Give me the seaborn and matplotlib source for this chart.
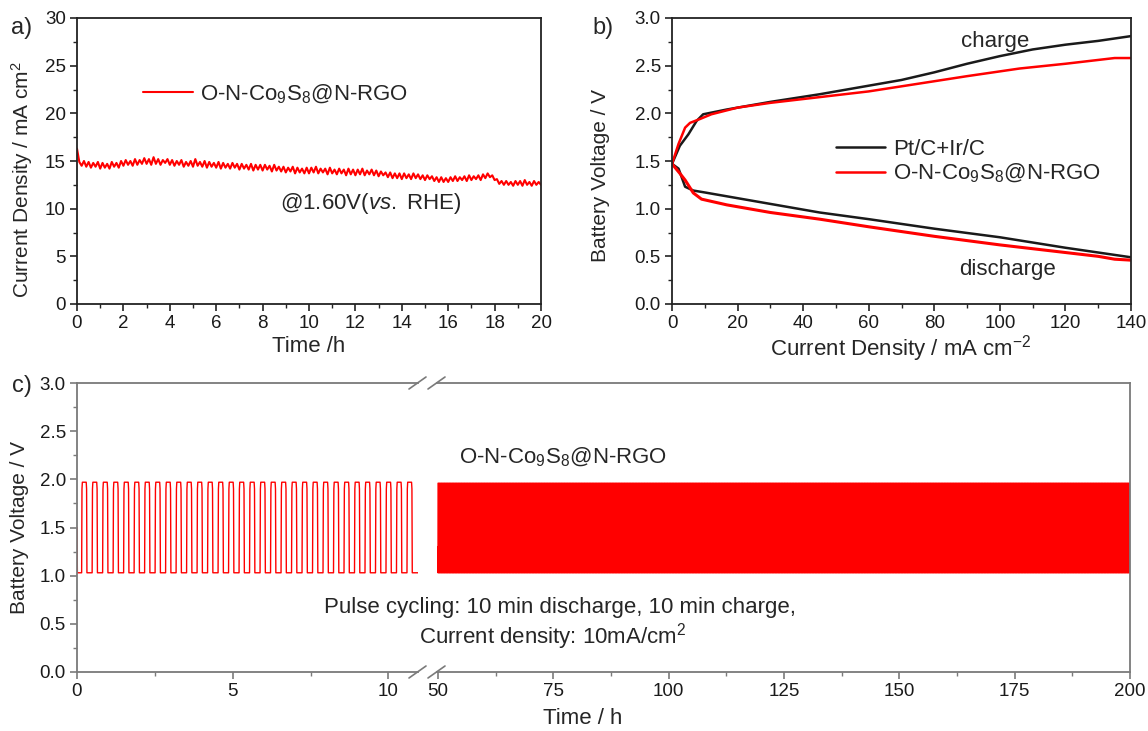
import numpy as np
import matplotlib
matplotlib.use("Agg")
import matplotlib.pyplot as plt
import seaborn as sns
from matplotlib.ticker import MultipleLocator, FixedLocator, FormatStrFormatter
from matplotlib.lines import Line2D

# ---------------- data ----------------
# (a) chronoamperometry at 1.60 V vs RHE, sampled every 0.1 h
time_a_h = np.linspace(0, 20, 201)
current_a = [
    16.3, 14.9, 14.5, 15.0, 14.4, 14.9, 14.3, 14.8, 14.4, 14.9,
    14.2, 14.8, 14.3, 14.7, 14.2, 14.9, 14.4, 14.8, 14.3, 15.0,
    14.5, 15.1, 14.6, 15.0, 14.5, 15.2, 14.6, 15.1, 14.7, 15.3,
    14.7, 15.2, 14.6, 15.4, 14.7, 15.2, 14.6, 15.1, 14.8, 15.2,
    14.6, 15.1, 14.5, 15.0, 14.6, 15.1, 14.4, 14.9, 14.5, 15.0,
    14.4, 15.2, 14.5, 14.9, 14.4, 15.0, 14.3, 14.9, 14.4, 14.8,
    14.3, 14.9, 14.2, 14.8, 14.3, 14.7, 14.2, 14.8, 14.3, 14.7,
    14.1, 14.7, 14.2, 14.6, 14.1, 14.7, 14.0, 14.6, 14.1, 14.6,
    14.0, 14.6, 14.1, 14.5, 13.9, 14.6, 14.0, 14.4, 13.9, 14.4,
    13.8, 14.3, 13.9, 14.4, 13.7, 14.3, 13.8, 14.2, 13.7, 14.3,
    13.7, 14.3, 13.8, 14.4, 13.7, 14.2, 13.8, 14.2, 13.6, 14.3,
    13.7, 14.1, 13.6, 14.2, 13.7, 14.1, 13.5, 14.2, 13.6, 14.1,
    13.5, 14.1, 13.6, 14.2, 13.5, 14.0, 13.6, 14.1, 13.5, 14.0,
    13.4, 13.9, 13.5, 13.8, 13.3, 13.8, 13.2, 13.7, 13.2, 13.7,
    13.1, 13.7, 13.2, 13.6, 13.1, 13.7, 13.2, 13.6, 13.1, 13.5,
    13.0, 13.5, 13.1, 13.4, 12.9, 13.3, 12.8, 13.3, 12.8, 13.2,
    12.8, 13.3, 12.9, 13.4, 12.9, 13.3, 13.0, 13.4, 12.9, 13.5,
    13.0, 13.4, 13.1, 13.5, 13.0, 13.6, 13.2, 13.7, 13.3, 13.5,
    13.0, 13.1, 12.6, 12.9, 12.5, 12.9, 12.5, 12.8, 12.4, 12.9,
    12.5, 12.9, 12.4, 13.0, 12.5, 12.8, 12.4, 12.9, 12.5, 12.8,
    12.5]
label_a = "O-N-Co$_9$S$_8$@N-RGO"

# (b) charge / discharge polarization curves
ref_charge_j = [0, 2.4, 5, 7.5, 9.5, 16.7, 30, 45, 60, 70, 80, 90, 100, 110, 120, 130, 140]
ref_charge_v = [1.47, 1.66, 1.78, 1.92, 1.99, 2.04, 2.12, 2.20, 2.29, 2.35, 2.43, 2.52, 2.60, 2.67, 2.72, 2.76, 2.81]
ref_dis_j = [0, 2, 4, 6.5, 10, 20, 30, 45, 60, 80, 100, 120, 140]
ref_dis_v = [1.47, 1.42, 1.23, 1.19, 1.17, 1.11, 1.05, 0.96, 0.89, 0.79, 0.70, 0.59, 0.49]
cat_charge_j = [0, 2, 4, 5.5, 8.5, 12, 20, 30, 45, 60, 75, 90, 106, 120, 135, 140]
cat_charge_v = [1.47, 1.68, 1.85, 1.90, 1.94, 1.99, 2.06, 2.11, 2.17, 2.23, 2.31, 2.39, 2.47, 2.52, 2.58, 2.58]
cat_dis_j = [0, 2.4, 4, 6.5, 9, 16.7, 30, 45, 60, 80, 100, 115, 130, 135, 140]
cat_dis_v = [1.47, 1.37, 1.30, 1.165, 1.10, 1.04, 0.96, 0.89, 0.81, 0.71, 0.62, 0.56, 0.50, 0.47, 0.46]
label_ref = "Pt/C+Ir/C"
label_cat = "O-N-Co$_9$S$_8$@N-RGO"

# (c) pulse cycling read-offs (10 min discharge / 10 min charge)
cycle_period_h = 0.337          # one charge+discharge cycle on the axis
first_peak_h = 0.234
left_range_h = [0.0, 10.97]
right_range_h = [50.0, 200.0]
left_levels_v = [1.03, 1.97]     # discharge, charge plateau
right_levels_v = [1.03, 1.96]
start_voltage_v = [1.50, 1.30]   # left segment, right segment


def pulse_wave(t0, t1, first_peak, period, low, high, v_start):
    ts = [t0, t0 + 0.012]
    vs = [v_start, low]
    c = first_peak
    while c + 0.09 <= t1:
        ts += [c - 0.085, c - 0.074, c - 0.062, c + 0.062, c + 0.074, c + 0.085]
        vs += [low, high - 0.07, high, high, high - 0.07, low]
        c += period
    ts.append(t1)
    vs.append(low)
    return np.array(ts), np.array(vs)


tL, vL = pulse_wave(left_range_h[0], left_range_h[1], first_peak_h, cycle_period_h,
                    left_levels_v[0], left_levels_v[1], start_voltage_v[0])
tR, vR = pulse_wave(right_range_h[0], right_range_h[1], right_range_h[0] + 0.1, 1 / 3,
                    right_levels_v[0], right_levels_v[1], start_voltage_v[1])

# ---------------- style ----------------
sns.set_theme(style="ticks")
plt.rcParams['font.family'] = ['Liberation Sans', 'DejaVu Sans']
plt.rcParams['mathtext.fontset'] = 'custom'
plt.rcParams['mathtext.rm'] = 'Liberation Sans'
plt.rcParams['mathtext.it'] = 'Liberation Sans:italic'
plt.rcParams['mathtext.bf'] = 'Liberation Sans:bold'

W, H = 1148, 731
fig = plt.figure(figsize=(W / 100, H / 100), dpi=100)


def box(l, t, r, b):
    return [l / W, 1 - b / H, (r - l) / W, (b - t) / H]


def fx(x):
    return x / W


def fy(y):
    return 1 - y / H


RED = "#ff0000"
TS = 13.5
LS = 16
YS = 15

axa = fig.add_axes(box(77, 18, 541, 304))
axb = fig.add_axes(box(672, 18, 1131, 304))
axc1 = fig.add_axes(box(77, 383, 418, 672))
axc2 = fig.add_axes(box(437, 383, 1130, 672))


def style_axes(ax, col):
    for s in ax.spines.values():
        s.set_color(col)
        s.set_linewidth(1.3)
    ax.tick_params(which='major', direction='out', length=5, width=1.2, color=col,
                   labelsize=TS, labelcolor='#1a1a1a', pad=3)
    ax.tick_params(which='minor', direction='out', length=3, width=1.0, color=col)


# ---- panel a ----
sns.lineplot(x=time_a_h, y=current_a, ax=axa, color=RED, lw=1.5, sort=False,
             estimator=None, errorbar=None, label=label_a)
axa.set_xlim(0, 20)
axa.set_ylim(0, 30)
axa.xaxis.set_major_locator(MultipleLocator(2))
axa.xaxis.set_minor_locator(MultipleLocator(1))
axa.yaxis.set_major_locator(MultipleLocator(5))
axa.yaxis.set_minor_locator(MultipleLocator(2.5))
axa.set_xlabel("")
axa.set_ylabel("")
style_axes(axa, "#222222")
axa.legend(loc='center left', bbox_to_anchor=(fx(143), fy(94)), bbox_transform=fig.transFigure,
           frameon=False, fontsize=LS, handlelength=2.25, handletextpad=0.3,
           borderpad=0, borderaxespad=0)
fig.text(fx(280), fy(203), "@1.60V($\\it{vs.}$ RHE)", fontsize=LS, va='center', ha='left')
fig.text(fx(22), fy(180), "Current Density / mA cm$^2$", fontsize=YS, rotation=90,
         va='center', ha='center')
fig.text(fx(309), fy(347), "Time /h", fontsize=LS, va='center', ha='center')
fig.text(fx(22), fy(28), "a)", fontsize=17, va='center', ha='center')

# ---- panel b ----
sns.lineplot(x=ref_charge_j, y=ref_charge_v, ax=axb, color='#1a1a1a', lw=1.8, sort=False,
             estimator=None, errorbar=None, label=label_ref)
sns.lineplot(x=ref_dis_j, y=ref_dis_v, ax=axb, color='#1a1a1a', lw=1.8, sort=False,
             estimator=None, errorbar=None)
sns.lineplot(x=cat_charge_j, y=cat_charge_v, ax=axb, color=RED, lw=1.8, sort=False,
             estimator=None, errorbar=None, label=label_cat)
sns.lineplot(x=cat_dis_j, y=cat_dis_v, ax=axb, color=RED, lw=2.2, sort=False,
             estimator=None, errorbar=None)
axb.set_xlim(0, 140)
axb.set_ylim(0, 3)
axb.xaxis.set_major_locator(MultipleLocator(20))
axb.xaxis.set_minor_locator(MultipleLocator(10))
axb.yaxis.set_major_locator(MultipleLocator(0.5))
axb.yaxis.set_minor_locator(MultipleLocator(0.25))
axb.yaxis.set_major_formatter(FormatStrFormatter('%.1f'))
axb.set_xlabel("")
axb.set_ylabel("")
style_axes(axb, "#222222")
axb.legend(loc='center left', bbox_to_anchor=(fx(836), fy(162)), bbox_transform=fig.transFigure,
           frameon=False, fontsize=LS, handlelength=2.2, handletextpad=0.35,
           labelspacing=0.1, borderpad=0, borderaxespad=0)
fig.text(fx(995), fy(42), "charge", fontsize=LS, va='center', ha='center')
fig.text(fx(1008), fy(270), "discharge", fontsize=LS, va='center', ha='center')
fig.text(fx(600), fy(176), "Battery Voltage / V", fontsize=YS, rotation=90,
         va='center', ha='center')
fig.text(fx(901), fy(349), "Current Density / mA cm$^{-2}$", fontsize=LS, va='center', ha='center')
fig.text(fx(603), fy(28), "b)", fontsize=17, va='center', ha='center')

# ---- panel c (broken axis) ----
sns.lineplot(x=tL, y=vL, ax=axc1, color=RED, lw=1.0, sort=False, estimator=None, errorbar=None)
sns.lineplot(x=tR, y=vR, ax=axc2, color=RED, lw=1.0, sort=False, estimator=None, errorbar=None)
axc1.set_xlim(0, 10.95)
axc2.set_xlim(49.8, 200)
for ax in (axc1, axc2):
    ax.set_ylim(0, 3)
    ax.set_xlabel("")
    ax.set_ylabel("")
    style_axes(ax, "#7a7a7a")
axc1.xaxis.set_major_locator(FixedLocator([0, 5, 10]))
axc1.xaxis.set_minor_locator(FixedLocator([2.5, 7.5]))
axc1.yaxis.set_major_locator(MultipleLocator(0.5))
axc1.yaxis.set_minor_locator(MultipleLocator(0.25))
axc1.yaxis.set_major_formatter(FormatStrFormatter('%.1f'))
axc2.xaxis.set_major_locator(MultipleLocator(25))
axc2.xaxis.set_minor_locator(MultipleLocator(12.5))
axc1.spines['right'].set_visible(False)
axc2.spines['left'].set_visible(False)
axc2.tick_params(axis='y', which='both', left=False, labelleft=False)

# break marks
for yb in (383, 672):
    for x0 in (409, 428):
        fig.add_artist(Line2D([fx(x0), fx(x0 + 17)], [fy(yb + 6), fy(yb - 6)],
                              color="#7a7a7a", lw=1.2))

fig.text(fx(563), fy(457), "O-N-Co$_9$S$_8$@N-RGO", fontsize=LS, va='center', ha='center')
fig.text(fx(560), fy(608), "Pulse cycling: 10 min discharge, 10 min charge,", fontsize=LS,
         va='center', ha='center')
fig.text(fx(553), fy(637), "Current density: 10mA/cm$^2$", fontsize=LS, va='center', ha='center')
fig.text(fx(20), fy(527), "Battery Voltage / V", fontsize=YS, rotation=90, va='center', ha='center')
fig.text(fx(583), fy(718), "Time / h", fontsize=LS, va='center', ha='center')
fig.text(fx(22), fy(386), "c)", fontsize=17, va='center', ha='center')

fig.savefig("out.png", dpi=100)
